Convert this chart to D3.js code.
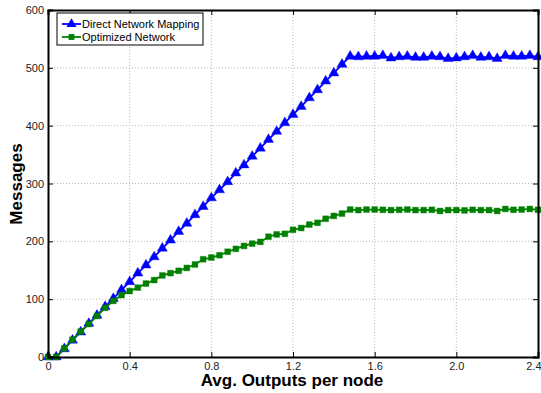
<!DOCTYPE html>
<html><head><meta charset="utf-8">
<script src="https://cdn.jsdelivr.net/npm/d3@7"></script>
<style>body{margin:0;background:#fff}svg{display:block}</style>
</head><body>
<svg id="c" width="541" height="393"></svg>
<script>
const xValues = [0,0.04,0.08,0.12,0.16,0.2,0.24,0.28,0.32,0.36,0.4,0.44,0.48,0.52,0.56,0.6,0.64,0.68,0.72,0.76,0.8,0.84,0.88,0.92,0.96,1.0,1.04,1.08,1.12,1.16,1.2,1.24,1.28,1.32,1.36,1.4,1.44,1.48,1.52,1.56,1.6,1.64,1.68,1.72,1.76,1.8,1.84,1.88,1.92,1.96,2.0,2.04,2.08,2.12,2.16,2.2,2.24,2.28,2.32,2.36,2.4];
const directValues = [0,0,14,29,43,58,72,87,101,116,130,145,159,173,188,202,217,231,246,260,275,289,303,318,332,347,361,376,390,405,419,433,448,462,477,491,506,520,519,520,520,521,517,519,520,518,518,520,519,516,517,519,521,518,519,516,521,520,520,521,519];
const optimizedValues = [0,0,15,30,44,57,71,85,97,107,114,120,127,133,141,145,149,154,160,169,172,176,182,187,192,196,199,208,212,213,220,223,229,232,239,244,248,255,254,255,255,254.5,254,254.5,255,254,254,254.5,252.5,254,254,253.5,254.5,254,254,252.5,256,254.5,255,256,254.5];
const seriesNames = ["Direct Network Mapping","Optimized Network"];
const xTicks = [0,0.4,0.8,1.2,1.6,2.0,2.4];
const yTicks = [0,100,200,300,400,500,600];

const svg = d3.select("#c");
const x = d3.scaleLinear().domain([0,2.4]).range([48,538]);
const y = d3.scaleLinear().domain([0,600]).range([357,10]);
const font = "Liberation Sans, Arial, Helvetica, sans-serif";

// grid
const g = svg.append("g");
g.selectAll(".vg").data(xTicks.slice(1,-1)).enter().append("line")
  .attr("x1",d=>x(d)).attr("x2",d=>x(d)).attr("y1",y(0)).attr("y2",y(600))
  .attr("stroke","#b8b8b8").attr("stroke-width",1).attr("stroke-dasharray","1,2");
g.selectAll(".hg").data(yTicks.slice(1,-1)).enter().append("line")
  .attr("x1",x(0)).attr("x2",x(2.4)).attr("y1",d=>y(d)).attr("y2",d=>y(d))
  .attr("stroke","#b8b8b8").attr("stroke-width",1).attr("stroke-dasharray","1,2");

// data
const series = [
  {name:seriesNames[0], vals:directValues, color:"#0000ff", sym:d3.symbolTriangle, size:44},
  {name:seriesNames[1], vals:optimizedValues, color:"#008000", sym:d3.symbolSquare, size:34}
];
const line = d3.line().x(d=>x(d[0])).y(d=>y(d[1]));
series.forEach(s=>{
  const pts = xValues.map((xv,i)=>[xv,s.vals[i]]);
  svg.append("path").attr("d",line(pts)).attr("fill","none").attr("stroke",s.color).attr("stroke-width",1.8);
  svg.append("g").selectAll("path").data(pts).enter().append("path")
    .attr("d",d3.symbol().type(s.sym).size(s.size))
    .attr("transform",d=>`translate(${x(d[0])},${y(d[1])})`)
    .attr("fill",s.color).attr("stroke",s.color).attr("stroke-width",0.8).attr("stroke-opacity",0.5);
});

// axes
const fmt = d => d===0 ? "0" : d3.format(".1f")(d);
const axB = svg.append("g").attr("transform",`translate(0,${y(0)})`)
  .call(d3.axisBottom(x).tickValues(xTicks).tickFormat(fmt).tickSize(-5).tickPadding(6));
const axL = svg.append("g").attr("transform",`translate(${x(0)},0)`)
  .call(d3.axisLeft(y).tickValues(yTicks).tickSize(-5).tickPadding(4));
const axT = svg.append("g").attr("transform",`translate(0,${y(600)})`)
  .call(d3.axisTop(x).tickValues(xTicks).tickFormat("").tickSize(-5));
const axR = svg.append("g").attr("transform",`translate(${x(2.4)},0)`)
  .call(d3.axisRight(y).tickValues(yTicks).tickFormat("").tickSize(-5));
[axB,axL,axT,axR].forEach(a=>{
  a.select(".domain").attr("stroke","#000").attr("stroke-width",2);
  a.selectAll(".tick line").attr("stroke","#000").attr("stroke-width",1);
  a.selectAll(".tick text").attr("font-family",font).attr("font-size",11).attr("fill","#222");
});
axB.selectAll(".tick text").attr("dy","0.6em");
// keep the last label inside the page
axB.selectAll(".tick text").filter(d=>d===2.4).attr("text-anchor","end").attr("dx","3");

// labels
svg.append("text").attr("x",292).attr("y",386).attr("text-anchor","middle")
  .attr("font-family",font).attr("font-weight","bold").attr("font-size",17).text("Avg. Outputs per node");
svg.append("text").attr("transform","translate(22,184) rotate(-90)").attr("text-anchor","middle")
  .attr("font-family",font).attr("font-weight","bold").attr("font-size",17).text("Messages");

// legend
const lg = svg.append("g");
lg.append("rect").attr("x",57).attr("y",13).attr("width",146).attr("height",32)
  .attr("fill","#fff").attr("stroke","#000").attr("stroke-width",1);
series.forEach((s,i)=>{
  const ly = 24 + i*13;
  lg.append("line").attr("x1",62).attr("x2",81).attr("y1",ly).attr("y2",ly).attr("stroke",s.color).attr("stroke-width",1.8);
  lg.append("path").attr("d",d3.symbol().type(s.sym).size(s.size)).attr("transform",`translate(71.5,${ly})`).attr("fill",s.color);
  lg.append("text").attr("x",82).attr("y",ly+4).attr("font-family",font).attr("font-size",11).attr("fill","#000").text(s.name);
});
</script>
</body></html>
